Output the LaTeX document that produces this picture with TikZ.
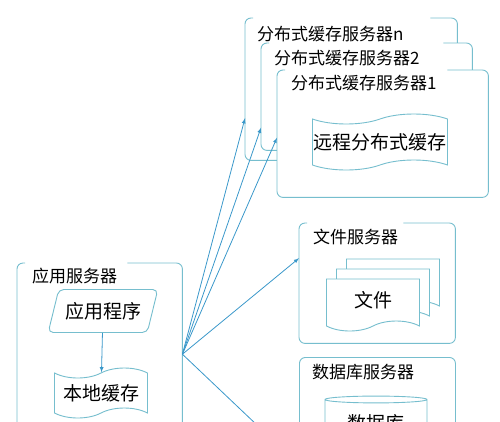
\documentclass[tikz,border=0pt]{standalone}
\usepackage{fontspec}
\setmainfont{Noto Sans CJK SC}
\usetikzlibrary{shapes.geometric,shapes.symbols,arrows,calc}
\definecolor{boxcol}{RGB}{118,190,206}
\definecolor{arrcol}{RGB}{58,152,202}
\tikzset{
  srvbox/.style={rectangle, rounded corners=6pt, fill=white, inner sep=0pt, anchor=north west},
  boxline/.style={draw=boxcol, line width=0.9pt, rounded corners=6pt},
  ttl/.style={anchor=west, inner sep=0pt, font=\fontsize{17}{20}\selectfont},
  shp/.style={draw=boxcol, line width=0.9pt, fill=white, inner sep=0pt, font=\fontsize{19}{22}\selectfont},
  tapebox/.style={shp, tape, tape bend height=10pt},
  docbox/.style={shp, tape, tape bend top=none, tape bend height=10pt, minimum width=93pt, minimum height=52pt},
  link/.style={draw=arrcol, line width=0.8pt, -latex}
}
\begin{document}
\begin{tikzpicture}[x=1pt, y=-1pt]
\useasboundingbox (0,0) rectangle (500,421);
\clip (0,0) rectangle (500,421);

% distributed cache servers, back to front
\node[srvbox, minimum width=212pt, minimum height=142pt] (srvn) at (245,18) {};
\draw[boxline] ([xshift=-27pt]srvn.north east) -- (srvn.north east) -- (srvn.south east) -- (srvn.south west) -- (srvn.north west) -- ([xshift=8pt]srvn.north west);
\node[ttl] (srvnttl) at (257,34) {分布式缓存服务器n};
\node[srvbox, minimum width=211pt, minimum height=107pt] (srv2) at (261,43) {};
\draw[boxline] ([xshift=-29pt]srv2.north east) -- (srv2.north east) -- (srv2.south east) -- (srv2.south west) -- (srv2.north west) -- ([xshift=8pt]srv2.north west);
\node[ttl] (srv2ttl) at (274,58) {分布式缓存服务器2};
\node[srvbox, minimum width=211pt, minimum height=127pt] (srv1) at (277,70) {};
\draw[boxline] ([xshift=-41pt]srv1.north east) -- (srv1.north east) -- (srv1.south east) -- (srv1.south west) -- (srv1.north west) -- ([xshift=8pt]srv1.north west);
\node[ttl] (srv1ttl) at (291,83) {分布式缓存服务器1};
\node[tapebox, minimum width=135pt, minimum height=56pt] (rcache) at (380,142) {远程分布式缓存};

% application server
\node[srvbox, minimum width=165pt, minimum height=182pt] (appsrv) at (17,263) {};
\draw[boxline] ([xshift=-55pt]appsrv.north east) -- (appsrv.north east) -- (appsrv.south east) -- (appsrv.south west) -- (appsrv.north west) -- ([xshift=8pt]appsrv.north west);
\node[ttl] (appttl) at (32,276) {应用服务器};
\node[shp, trapezium, trapezium left angle=63, trapezium right angle=117, trapezium stretches=true, minimum width=110pt, minimum height=43pt, rounded corners=5pt] (prog) at (103,311) {应用程序};
\node[tapebox, minimum width=93pt, minimum height=50pt] (lcache) at (101,393) {本地缓存};
\draw[link] (prog) -- (lcache);

% file server
\node[srvbox, minimum width=156pt, minimum height=120pt] (fsrv) at (299,223) {};
\draw[boxline] ([xshift=-52pt]fsrv.north east) -- (fsrv.north east) -- (fsrv.south east) -- (fsrv.south west) -- (fsrv.north west) -- ([xshift=8pt]fsrv.north west);
\node[ttl] (fttl) at (313,237) {文件服务器};
\node[docbox] (doc3) at (393,280) {};
\node[docbox] (doc2) at (383,290) {};
\node[docbox] (doc1) at (373,300) {文件};

% database server
\node[srvbox, minimum width=156pt, minimum height=123pt, draw=boxcol, line width=0.9pt] (dbsrv) at (299,357) {};
\node[ttl] (dbttl) at (312,372) {数据库服务器};
\node[shp, cylinder, shape border rotate=90, aspect=0.12, minimum width=102pt, minimum height=50pt] (db) at (376,423) {数据库};

% connections
\coordinate (hub) at (appsrv.east);
\draw[link] (hub) -- ([yshift=-29pt]srvn.west);
\draw[link] (hub) -- ([yshift=-31pt]srv2.west);
\draw[link] (hub) -- ([yshift=-4pt]srv1.west);
\draw[link] (hub) -- ([yshift=25pt]fsrv.west);
\draw[link] (hub) -- ([yshift=-46pt]dbsrv.west);
\end{tikzpicture}
\end{document}
